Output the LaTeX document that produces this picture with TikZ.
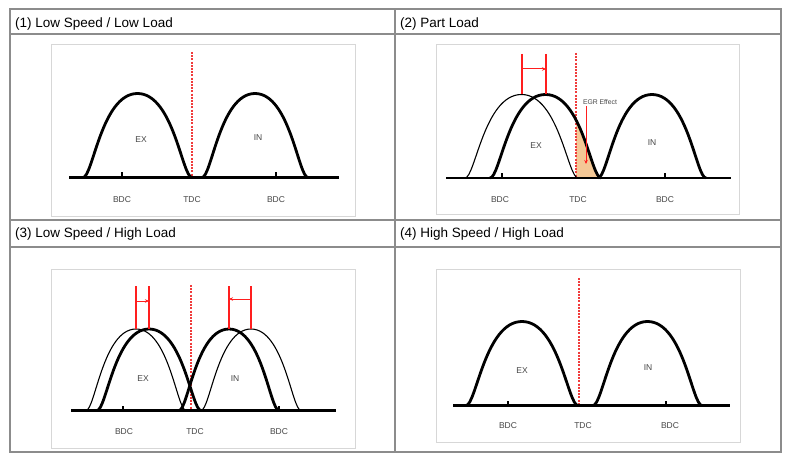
\documentclass[tikz,border=0pt]{standalone}
\usepackage{fontspec}
\setmainfont{Liberation Sans}
\usetikzlibrary{arrows.meta}
\definecolor{tablegray}{RGB}{140,140,140}
\definecolor{framegray}{RGB}{215,215,215}
\definecolor{egrorange}{RGB}{244,200,150}
\definecolor{lblgray}{RGB}{70,70,70}
\definecolor{tdcred}{RGB}{240,60,60}
\definecolor{markred}{RGB}{255,30,30}
% lobe: #1 start x, #2 end x, #3 baseline y, #4 height, #5 style
\newcommand\camlobe[5]{\draw[#5] (#1,#3) .. controls ({#1+0.09*(#2-#1)},#3) and ({#1+0.17*(#2-#1)},{#3-#4}) .. ({(#1+#2)/2},{#3-#4}) .. controls ({#2-0.17*(#2-#1)},{#3-#4}) and ({#2-0.09*(#2-#1)},#3) .. (#2,#3);}
\newcommand\camfill[5]{\fill[#5] (#1,#3) .. controls ({#1+0.09*(#2-#1)},#3) and ({#1+0.17*(#2-#1)},{#3-#4}) .. ({(#1+#2)/2},{#3-#4}) .. controls ({#2-0.17*(#2-#1)},{#3-#4}) and ({#2-0.09*(#2-#1)},#3) .. (#2,#3) -- cycle;}
\tikzset{
  tbl/.style={draw=tablegray, line width=1.6pt},
  pframe/.style={draw=framegray, line width=0.8pt},
  baseln/.style={line width=2.8pt},
  thicklobe/.style={line width=2.8pt, line join=round},
  thinlobe/.style={line width=1.1pt, line join=round},
  tdcline/.style={draw=tdcred, dash pattern=on 2pt off 1.2pt, line width=1.1pt},
  redl/.style={draw=markred, line width=1.2pt},
  redarr/.style={draw=markred, line width=1pt, -{Stealth[length=4pt,width=3.5pt]}},
  lbl/.style={font=\fontsize{8.5}{10}\selectfont, text=lblgray, inner sep=0},
  ttl/.style={font=\fontsize{13.5}{16}\selectfont, anchor=base west, inner sep=0},
  tickm/.style={line width=1.6pt}
}
\begin{document}
\begin{tikzpicture}[x=1pt,y=-1pt]
\fill[white] (0,0) rectangle (791,462);
\useasboundingbox (0,0) rectangle (791,462);
% table
\draw[tbl] (10,9) rectangle (781,452);
\draw[tbl] (395,9) -- (395,452);
\draw[tbl] (10,34) -- (781,34);
\draw[tbl] (10,220) -- (781,220);
\draw[tbl] (10,247) -- (781,247);
\node[ttl] (t1) at (15,27.5) {(1) Low Speed / Low Load};
\node[ttl] (t2) at (400,27.5) {(2) Part Load};
\node[ttl] (t3) at (15,237.5) {(3) Low Speed / High Load};
\node[ttl] (t4) at (400,237.5) {(4) High Speed / High Load};
% inner frames
\draw[pframe] (51,44) rectangle (355,216);
\draw[pframe] (436,44) rectangle (739,214);
\draw[pframe] (51,269) rectangle (355,448);
\draw[pframe] (436,269) rectangle (740,442);

% ---------- Panel 1
\draw[tdcline] (192,52) -- (192,177.5);
\camlobe{83}{192}{177.5}{84}{thicklobe}
\camlobe{202}{308}{177.5}{84}{thicklobe}
\draw[baseln] (69,177.5) -- (339,177.5);
\draw[tickm] (122,177.5) -- (122,172.5);
\draw[tickm] (276,177.5) -- (276,172.5);
\node[lbl] (p1ex) at (141,140) {EX};
\node[lbl] (p1in) at (258,138) {IN};
\node[lbl] (p1b1) at (122,200) {BDC};
\node[lbl] (p1t) at (192,200) {TDC};
\node[lbl] (p1b2) at (276,200) {BDC};

% ---------- Panel 2
\begin{scope}
\clip (576,40) rectangle (620,178);
\camfill{490}{601}{178}{83.5}{egrorange}
\end{scope}
\draw[tdcline] (576,53) -- (576,178);
\camlobe{465}{578}{178}{83.5}{thinlobe}
\camlobe{490}{601}{178}{83.5}{thicklobe}
\camlobe{598}{706}{178}{83.5}{thicklobe}
\draw[baseln] (446,178) -- (731,178);
\draw[tickm] (502,178) -- (502,173);
\draw[tickm] (665,178) -- (665,173);
\coordinate (p2a) at (522,54);
\coordinate (p2b) at (546,54);
\draw[redl] (p2a) -- (522,94);
\draw[redl] (p2b) -- (546,94);
\draw[redarr] (522,69) -- (546,69);
\node[lbl, font=\fontsize{6.8}{8}\selectfont] (egr) at (600,102) {EGR Effect};
\coordinate (egrtip) at (586,164);
\draw[redarr] (586,106) -- (egrtip);
\node[lbl] (p2ex) at (536,146) {EX};
\node[lbl] (p2in) at (652,143) {IN};
\node[lbl] (p2b1) at (500,200) {BDC};
\node[lbl] (p2t) at (578,200) {TDC};
\node[lbl] (p2b2) at (665,200) {BDC};

% ---------- Panel 3
\draw[tdcline] (191,285) -- (191,410.5);
\camlobe{86}{186}{410.5}{81.5}{thinlobe}
\camlobe{201}{301}{410.5}{81.5}{thinlobe}
\camlobe{97}{201}{410.5}{81.5}{thicklobe}
\camlobe{179}{279}{410.5}{81.5}{thicklobe}
\draw[baseln] (71,410.5) -- (336,410.5);
\draw[tickm] (123,410.5) -- (123,405.5);
\draw[tickm] (279,410.5) -- (279,405.5);
\draw[redl] (136,286) -- (136,329);
\draw[redl] (149,286) -- (149,329);
\draw[redl] (229,286) -- (229,329);
\draw[redl] (251,286) -- (251,329);
\draw[redarr] (136,301) -- (149,301);
\draw[redarr] (251,299) -- (229,299);
\node[lbl] (p3ex) at (143,379) {EX};
\node[lbl] (p3in) at (235,379) {IN};
\node[lbl] (p3b1) at (124,432) {BDC};
\node[lbl] (p3t) at (195,432) {TDC};
\node[lbl] (p3b2) at (279,432) {BDC};

% ---------- Panel 4
\draw[tdcline] (579,278) -- (579,405.5);
\camlobe{466}{578}{405.5}{84}{thicklobe}
\camlobe{593}{702}{405.5}{84}{thicklobe}
\draw[baseln] (453,405.5) -- (730,405.5);
\draw[tickm] (508,405.5) -- (508,400.5);
\draw[tickm] (666,405.5) -- (666,400.5);
\node[lbl] (p4ex) at (522,371) {EX};
\node[lbl] (p4in) at (648,368) {IN};
\node[lbl] (p4b1) at (508,426) {BDC};
\node[lbl] (p4t) at (583,426) {TDC};
\node[lbl] (p4b2) at (670,426) {BDC};
\end{tikzpicture}
\end{document}
